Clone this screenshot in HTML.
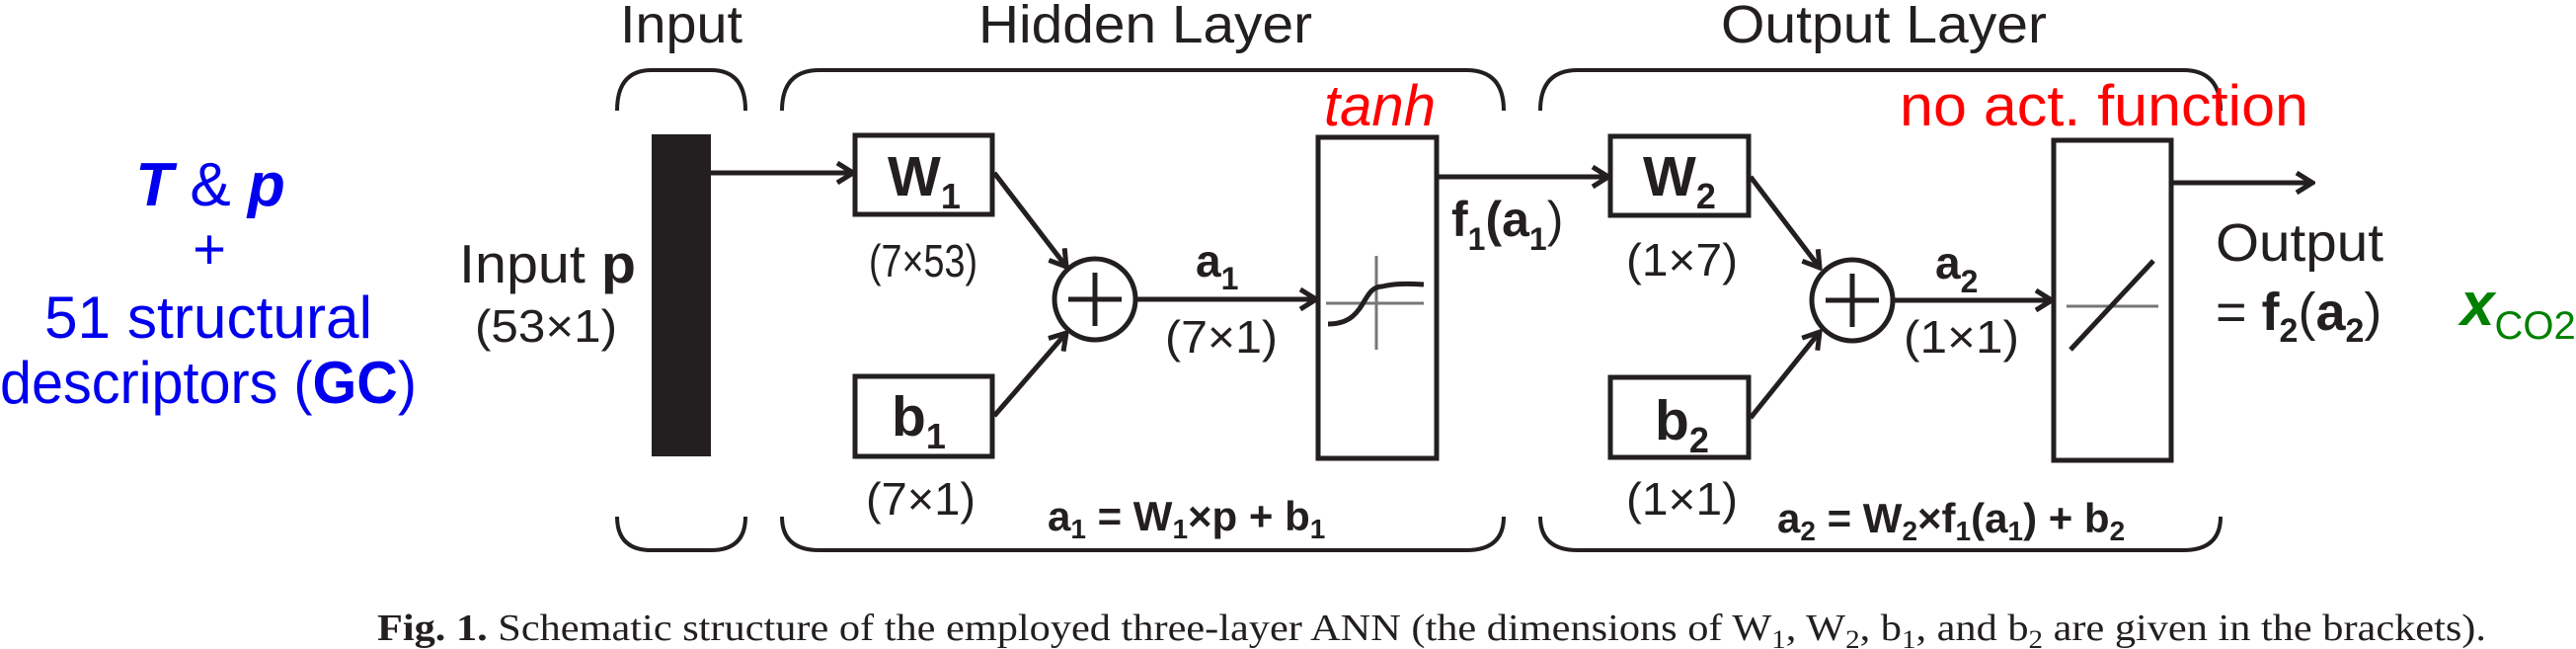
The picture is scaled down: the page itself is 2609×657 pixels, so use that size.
<!DOCTYPE html>
<html><head><meta charset="utf-8"><style>
html,body{margin:0;padding:0;background:#fff;}
svg{display:block;}
text{font-family:"Liberation Sans",Arial,sans-serif;fill:#231f20;}
.b{font-weight:bold;}
.cap{font-family:"Liberation Serif",serif;}
</style></head><body>
<svg width="2609" height="657" viewBox="0 0 2609 657" xmlns="http://www.w3.org/2000/svg">
<defs>
<marker id="ah" viewBox="0 0 24 24" refX="21" refY="12" markerWidth="24" markerHeight="24" markerUnits="userSpaceOnUse" orient="auto">
<polyline points="5,2 21,12 5,22" fill="none" stroke="#231f20" stroke-width="5"/>
</marker>
</defs>
<g>
<text x="213" y="208" font-size="62" text-anchor="middle" style="fill:#0000ee;font-family:'Liberation Sans',sans-serif"><tspan font-weight="bold" font-style="italic">T</tspan> &amp; <tspan font-weight="bold" font-style="italic">p</tspan></text>
<text x="212" y="272" font-size="58" text-anchor="middle" style="fill:#0000ee">+</text>
<text x="45" y="342" font-size="60" textLength="332" lengthAdjust="spacingAndGlyphs" style="fill:#0000ee">51 structural</text>
<text x="0" y="408" font-size="60" textLength="422" lengthAdjust="spacingAndGlyphs" style="fill:#0000ee">descriptors (<tspan font-weight="bold">GC</tspan>)</text>
</g>
<g stroke="#231f20" stroke-width="4" fill="none">
<path d="M625,112 Q625,71 660,71 L720,71 Q755,71 755,112"/>
<path d="M792,112 Q792,71 830,71 L1485,71 Q1523,71 1523,112"/>
<path d="M1560,112 Q1560,71 1598,71 L2211,71 Q2249,71 2249,112"/>
<path d="M625,523 Q625,557 660,557 L720,557 Q755,557 755,523"/>
<path d="M792,523 Q792,557 830,557 L1485,557 Q1523,557 1523,523"/>
<path d="M1560,523 Q1560,557 1598,557 L2211,557 Q2249,557 2249,523"/>
</g>
<text x="628" y="43" font-size="54" textLength="124" lengthAdjust="spacingAndGlyphs">Input</text>
<text x="991" y="43" font-size="54" textLength="338" lengthAdjust="spacingAndGlyphs">Hidden Layer</text>
<text x="1743" y="43" font-size="54" textLength="330" lengthAdjust="spacingAndGlyphs">Output Layer</text>

<rect x="660" y="136" width="60" height="326" fill="#231f20"/>
<text x="465" y="286" font-size="55" textLength="179" lengthAdjust="spacingAndGlyphs">Input <tspan class="b">p</tspan></text>
<text x="481" y="346" font-size="46" textLength="144" lengthAdjust="spacingAndGlyphs">(53×1)</text>

<g stroke="#231f20" stroke-width="5" fill="none">
<rect x="866" y="137" width="139" height="80"/>
<rect x="866" y="381" width="139" height="81"/>
<rect x="1335" y="139" width="120" height="325"/>
<rect x="1631" y="138" width="140" height="80"/>
<rect x="1631" y="382" width="140" height="81"/>
<rect x="2080" y="142" width="119" height="324"/>
<circle cx="1109" cy="303" r="41"/>
<circle cx="1876" cy="304" r="41"/>
<path d="M1082,303 H1136 M1109,276 V330 M1849,304 H1903 M1876,277 V331"/>
<line x1="720" y1="175" x2="864" y2="175" marker-end="url(#ah)"/>
<line x1="1007" y1="175" x2="1080" y2="270" marker-end="url(#ah)"/>
<line x1="1007" y1="421" x2="1080" y2="337" marker-end="url(#ah)"/>
<line x1="1151" y1="303" x2="1333" y2="303" marker-end="url(#ah)"/>
<line x1="1457" y1="179" x2="1629" y2="179" marker-end="url(#ah)"/>
<line x1="1773" y1="179" x2="1843" y2="271" marker-end="url(#ah)"/>
<line x1="1773" y1="423" x2="1843" y2="336" marker-end="url(#ah)"/>
<line x1="1918" y1="304" x2="2078" y2="304" marker-end="url(#ah)"/>
<line x1="2201" y1="185" x2="2342" y2="185" marker-end="url(#ah)"/>
</g>
<g>
<line x1="1343" y1="307" x2="1442" y2="307" stroke="#777" stroke-width="3"/>
<line x1="1394" y1="259" x2="1394" y2="354" stroke="#777" stroke-width="3"/>
<path d="M1345,328 C1385,328 1378,290 1400,290 C1412,287 1425,287 1442,288" fill="none" stroke="#231f20" stroke-width="5"/>
</g>
<g>
<line x1="2093" y1="310" x2="2186" y2="310" stroke="#777" stroke-width="3"/>
<line x1="2097" y1="354" x2="2181" y2="264" stroke="#231f20" stroke-width="5"/>
</g>

<text x="899" y="198" font-size="57" class="b">W<tspan font-size="36" dy="13">1</tspan></text>
<text x="903" y="441" font-size="57" class="b">b<tspan font-size="36" dy="13">1</tspan></text>
<text x="880" y="280" font-size="46" textLength="110" lengthAdjust="spacingAndGlyphs">(7×53)</text>
<text x="877" y="521" font-size="46" textLength="111" lengthAdjust="spacingAndGlyphs">(7×1)</text>
<text x="1211" y="280" font-size="46" class="b">a<tspan font-size="32" dy="13">1</tspan></text>
<text x="1180" y="357" font-size="46" textLength="114" lengthAdjust="spacingAndGlyphs">(7×1)</text>
<text x="1061" y="537" font-size="42" class="b">a<tspan font-size="28" dy="8">1</tspan><tspan dy="-8"> = W</tspan><tspan font-size="28" dy="8">1</tspan><tspan dy="-8">×p + b</tspan><tspan font-size="28" dy="8">1</tspan></text>
<text x="1341" y="127" font-size="58" font-style="italic" textLength="113" lengthAdjust="spacingAndGlyphs" style="fill:#ff0000">tanh</text>

<text x="1470" y="239" font-size="50" class="b">f<tspan font-size="32" dy="14">1</tspan><tspan dy="-14">(a</tspan><tspan font-size="32" dy="14">1</tspan><tspan dy="-14" font-weight="normal">)</tspan></text>
<text x="1664" y="198" font-size="57" class="b">W<tspan font-size="36" dy="13">2</tspan></text>
<text x="1676" y="445" font-size="57" class="b">b<tspan font-size="36" dy="13">2</tspan></text>
<text x="1647" y="279" font-size="46" textLength="113" lengthAdjust="spacingAndGlyphs">(1×7)</text>
<text x="1647" y="521" font-size="46" textLength="113" lengthAdjust="spacingAndGlyphs">(1×1)</text>
<text x="1960" y="282" font-size="46" class="b">a<tspan font-size="32" dy="14">2</tspan></text>
<text x="1928" y="357" font-size="46" textLength="117" lengthAdjust="spacingAndGlyphs">(1×1)</text>
<text x="1800" y="539" font-size="42" class="b">a<tspan font-size="28" dy="8">2</tspan><tspan dy="-8"> = W</tspan><tspan font-size="28" dy="8">2</tspan><tspan dy="-8">×f</tspan><tspan font-size="28" dy="8">1</tspan><tspan dy="-8">(a</tspan><tspan font-size="28" dy="8">1</tspan><tspan dy="-8">) + b</tspan><tspan font-size="28" dy="8">2</tspan></text>
<text x="1924" y="127" font-size="58" textLength="414" lengthAdjust="spacingAndGlyphs" style="fill:#ff0000">no act. function</text>

<text x="2244" y="264" font-size="54" textLength="170" lengthAdjust="spacingAndGlyphs">Output</text>
<text x="2244" y="334" font-size="54">= <tspan class="b">f</tspan><tspan class="b" font-size="34" dy="12">2</tspan><tspan dy="-12">(</tspan><tspan class="b">a</tspan><tspan class="b" font-size="34" dy="12">2</tspan><tspan dy="-12">)</tspan></text>
<text x="2492" y="329" font-size="62" style="fill:#008000"><tspan font-weight="bold" font-style="italic">x</tspan><tspan font-size="40" dy="14">CO2</tspan></text>

<text x="382" y="648" font-size="38" class="cap" textLength="2136" lengthAdjust="spacingAndGlyphs"><tspan font-weight="bold">Fig. 1.</tspan> Schematic structure of the employed three-layer ANN (the dimensions of W<tspan font-size="26" dy="8">1</tspan><tspan dy="-8">, W</tspan><tspan font-size="26" dy="8">2</tspan><tspan dy="-8">, b</tspan><tspan font-size="26" dy="8">1</tspan><tspan dy="-8">, and b</tspan><tspan font-size="26" dy="8">2</tspan><tspan dy="-8"> are given in the brackets).</tspan></text>
</svg>
</body></html>
